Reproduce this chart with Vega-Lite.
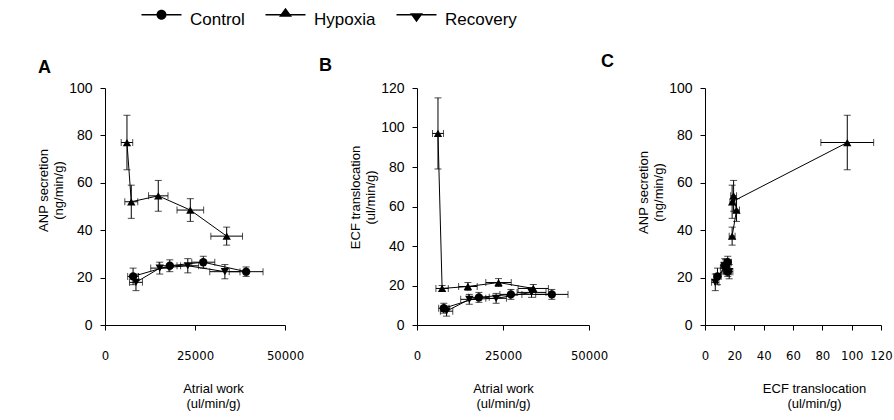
{
  "$schema": "https://vega.github.io/schema/vega-lite/v6.json",
  "datasets": {
    "d": [
      {"g": "Control", "i": 1, "work": 7800, "work_e": 1500, "anp": 20.5, "anp_e": 3.5, "ecf": 8.5, "ecf_e": 2.5},
      {"g": "Control", "i": 2, "work": 18000, "work_e": 3000, "anp": 25, "anp_e": 2.5, "ecf": 14, "ecf_e": 2.5},
      {"g": "Control", "i": 3, "work": 27300, "work_e": 3200, "anp": 26.5, "anp_e": 2.5, "ecf": 15.5, "ecf_e": 2.5},
      {"g": "Control", "i": 4, "work": 39200, "work_e": 4700, "anp": 22.5, "anp_e": 2, "ecf": 15.5, "ecf_e": 2.5},
      {"g": "Hypoxia", "i": 1, "work": 6100, "work_e": 1600, "anp": 77, "anp_e": 11.5, "ecf": 97, "ecf_e": 18},
      {"g": "Hypoxia", "i": 2, "work": 7300, "work_e": 1800, "anp": 52, "anp_e": 7, "ecf": 18.5, "ecf_e": 1.5},
      {"g": "Hypoxia", "i": 3, "work": 14800, "work_e": 2700, "anp": 54.5, "anp_e": 6.5, "ecf": 19.5, "ecf_e": 2},
      {"g": "Hypoxia", "i": 4, "work": 23700, "work_e": 3700, "anp": 48.5, "anp_e": 4.8, "ecf": 21.5, "ecf_e": 2},
      {"g": "Hypoxia", "i": 5, "work": 33800, "work_e": 4400, "anp": 37.5, "anp_e": 3.8, "ecf": 18.5, "ecf_e": 2},
      {"g": "Recovery", "i": 1, "work": 8600, "work_e": 1800, "anp": 18, "anp_e": 3.5, "ecf": 7, "ecf_e": 2.5},
      {"g": "Recovery", "i": 2, "work": 15200, "work_e": 2500, "anp": 24, "anp_e": 2.5, "ecf": 13, "ecf_e": 2.5},
      {"g": "Recovery", "i": 3, "work": 23000, "work_e": 3000, "anp": 25, "anp_e": 3, "ecf": 13.5, "ecf_e": 2.5},
      {"g": "Recovery", "i": 4, "work": 33300, "work_e": 4200, "anp": 22.5, "anp_e": 3, "ecf": 16.5, "ecf_e": 2.5}
    ]
  },
  "data": {"name": "d"},
  "autosize": {"type": "pad"},
  "padding": {"left": 37, "top": 11, "right": 5, "bottom": 5},
  "background": "white",
  "bounds": "flush",
  "spacing": 132,
  "resolve": {"scale": {"shape": "shared"}, "legend": {"shape": "shared"}},
  "config": {
    "view": {"stroke": null},
    "font": "Liberation Sans",
    "axis": {
      "grid": false, "domainColor": "black", "tickColor": "black", "labelColor": "black", "titleColor": "black",
      "labelFont": "Liberation Sans", "titleFont": "Liberation Sans", "titleFontWeight": "normal", "titleFontSize": 13,
      "titleLineHeight": 15, "tickSize": 5, "labelOverlap": false, "labelFlush": false
    },
    "axisX": {"labelFont": "Liberation Sans Narrow, DejaVu Sans Condensed, Liberation Sans", "labelFontSize": 13, "labelPadding": 19, "titlePadding": 20},
    "axisY": {"labelFontSize": 14, "labelPadding": 8, "titlePadding": 3},
    "title": {"font": "Liberation Sans", "fontSize": 18, "fontWeight": "bold", "anchor": "start", "color": "black", "frame": "group", "baseline": "alphabetic"},
    "point": {"filled": true, "color": "black", "size": 70, "opacity": 1}
  },
  "hconcat": [
    {
      "width": 180, "height": 237,
      "title": {"text": "A", "dx": -67, "offset": 4},
      "encoding": {
        "x": {"field": "work", "type": "quantitative", "scale": {"domain": [0, 50000]}, "axis": {"values": [0, 25000, 50000], "format": "d", "title": ["Atrial work", "(ul/min/g)"], "titleX": 108}},
        "y": {"field": "anp", "type": "quantitative", "scale": {"domain": [0, 100]}, "axis": {"values": [0, 20, 40, 60, 80, 100], "title": ["ANP secretion", "(ng/min/g)"], "titleY": 102}}
      },
      "layer": [
        {"mark": {"type": "line", "color": "black", "strokeWidth": 1}, "encoding": {"detail": {"field": "g"}, "order": {"field": "i"}}},
        {"mark": {"type": "errorbar", "ticks": {"size": 7}, "color": "black"}, "encoding": {"yError": {"field": "anp_e"}}},
        {"mark": {"type": "errorbar", "ticks": {"size": 7}, "color": "black"}, "encoding": {"xError": {"field": "work_e"}}},
        {"transform": [{"filter": "datum.g == 'Control'"}], "mark": {"type": "point", "shape": "circle"}},
        {"transform": [{"filter": "datum.g == 'Hypoxia'"}], "mark": {"type": "point", "shape": "triangle-up"}},
        {"transform": [{"filter": "datum.g == 'Recovery'"}], "mark": {"type": "point", "shape": "triangle-down"}},
        {"transform": [{"filter": "datum.i > 99"}],
         "mark": {"type": "point", "filled": true, "color": "black", "opacity": 1},
         "encoding": {"shape": {"field": "g", "type": "nominal",
           "scale": {"domain": ["Control", "Hypoxia", "Recovery"],
                     "range": [
                       "M-1,-1.14H2V-0.86H-1ZM4,-1.14H7V-0.86H4ZM2,-1A1,1,0,1,0,4,-1A1,1,0,1,0,2,-1Z",
                       "M-1,-1.14H2.1V-0.86H-1ZM3.9,-1.14H7V-0.86H3.9ZM3,-2.4L4.3,-0.6H1.7Z",
                       "M-1,-1.14H2V-0.86H-1ZM4,-1.14H7V-0.86H4ZM1.7,-1.3H4.3L3,0.5Z"
                     ]},
           "legend": {"orient": "none", "direction": "horizontal", "legendX": 33, "legendY": -77, "title": null,
             "symbolSize": 100, "labelFontSize": 17, "labelFont": "Liberation Sans", "labelColor": "black",
             "labelOffset": 35, "columnPadding": 17, "padding": 0,
             "symbolFillColor": "black", "symbolStrokeColor": "black", "symbolStrokeWidth": 0.5}}}}
      ]
    },
    {
      "bounds": "flush",
      "spacing": 116,
      "hconcat": [
        {
          "width": 172, "height": 237,
          "title": {"text": "B", "dx": -98, "offset": 6},
          "encoding": {
            "x": {"field": "work", "type": "quantitative", "scale": {"domain": [0, 50000]}, "axis": {"values": [0, 25000, 50000], "format": "d", "title": ["Atrial work", "(ul/min/g)"]}},
            "y": {"field": "ecf", "type": "quantitative", "scale": {"domain": [0, 120]}, "axis": {"values": [0, 20, 40, 60, 80, 100, 120], "title": ["ECF translocation", "(ul/min/g)"], "titleY": 109}}
          },
          "layer": [
            {"mark": {"type": "line", "color": "black", "strokeWidth": 1}, "encoding": {"detail": {"field": "g"}, "order": {"field": "i"}}},
            {"mark": {"type": "errorbar", "ticks": {"size": 7}, "color": "black"}, "encoding": {"yError": {"field": "ecf_e"}}},
            {"mark": {"type": "errorbar", "ticks": {"size": 7}, "color": "black"}, "encoding": {"xError": {"field": "work_e"}}},
            {"transform": [{"filter": "datum.g == 'Control'"}], "mark": {"type": "point", "shape": "circle"}},
            {"transform": [{"filter": "datum.g == 'Hypoxia'"}], "mark": {"type": "point", "shape": "triangle-up"}},
            {"transform": [{"filter": "datum.g == 'Recovery'"}], "mark": {"type": "point", "shape": "triangle-down"}}
          ]
        },
        {
          "width": 176, "height": 237,
          "title": {"text": "C", "dx": -104, "offset": 10},
          "encoding": {
            "x": {"field": "ecf", "type": "quantitative", "scale": {"domain": [0, 120]}, "axis": {"values": [0, 20, 40, 60, 80, 100, 120], "title": ["ECF translocation", "(ul/min/g)"], "titleX": 109}},
            "y": {"field": "anp", "type": "quantitative", "scale": {"domain": [0, 100]}, "axis": {"values": [0, 20, 40, 60, 80, 100], "title": ["ANP secretion", "(ng/min/g)"], "titleY": 104}}
          },
          "layer": [
            {"mark": {"type": "line", "color": "black", "strokeWidth": 1}, "encoding": {"detail": {"field": "g"}, "order": {"field": "i"}}},
            {"mark": {"type": "errorbar", "ticks": {"size": 7}, "color": "black"}, "encoding": {"yError": {"field": "anp_e"}}},
            {"mark": {"type": "errorbar", "ticks": {"size": 7}, "color": "black"}, "encoding": {"xError": {"field": "ecf_e"}}},
            {"transform": [{"filter": "datum.g == 'Control'"}], "mark": {"type": "point", "shape": "circle"}},
            {"transform": [{"filter": "datum.g == 'Hypoxia'"}], "mark": {"type": "point", "shape": "triangle-up"}},
            {"transform": [{"filter": "datum.g == 'Recovery'"}], "mark": {"type": "point", "shape": "triangle-down"}}
          ]
        }
      ]
    }
  ]
}
